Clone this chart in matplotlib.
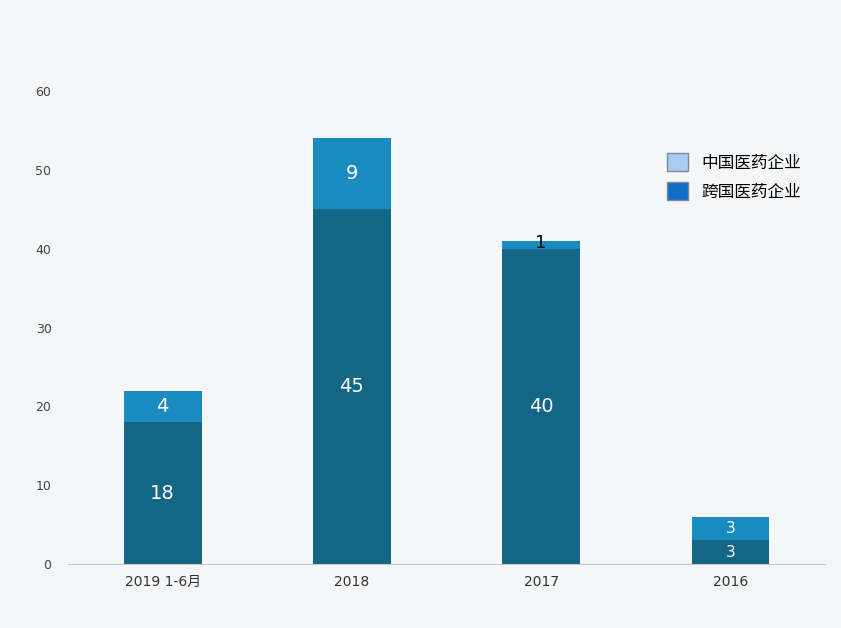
import matplotlib.pyplot as plt
from matplotlib.patches import Patch

years = ["2019 1-6月", "2018", "2017", "2016"]
multinational = [18, 45, 40, 3]
chinese = [4, 9, 1, 3]
legend_labels = ["中国医药企业", "跨国医药企业"]

plt.rcParams["font.family"] = ["DejaVu Sans", "Noto Sans CJK SC"]

fig = plt.figure(figsize=(8.41, 6.28), dpi=100, facecolor="#f5f6f7")
ax = fig.add_axes([0.081, 0.102, 0.9, 0.753], facecolor="#f5f6f7")

x = range(len(years))
w = 0.41
ax.bar(x, multinational, w, color="#136686")
ax.bar(x, chinese, w, bottom=multinational, color="#1a8bbf")

for i in x:
    fs = 11 if multinational[i] < 5 else 14
    ax.text(i, multinational[i] / 2, str(multinational[i]), color="white",
            ha="center", va="center", fontsize=fs)
    if chinese[i] < 2:
        ax.text(i, multinational[i] + chinese[i] / 2 + 0.2, str(chinese[i]),
                color="black", ha="center", va="center", fontsize=13)
    else:
        fs = 11 if chinese[i] < 4 else 14
        ax.text(i, multinational[i] + chinese[i] / 2, str(chinese[i]),
                color="white", ha="center", va="center", fontsize=fs)

ax.set_xlim(-0.5, 3.5)
ax.set_ylim(0, 60)
ax.set_yticks(range(0, 61, 10))
ax.set_xticks(list(x))
ax.set_xticklabels(years, fontsize=10, color="#333333")
ax.tick_params(axis="y", labelsize=9, colors="#444444", length=0, pad=12)
ax.tick_params(axis="x", length=0, pad=8)
for s in ["top", "right", "left"]:
    ax.spines[s].set_visible(False)
ax.spines["bottom"].set_color("#c8c8c8")

handles = [Patch(facecolor="#a8cdf0", edgecolor="#7a8a99"),
           Patch(facecolor="#0f6fc6", edgecolor="#7a8a99")]
fig.legend(handles, legend_labels, loc="upper left", bbox_to_anchor=(0.775, 0.78),
           frameon=False, fontsize=12, prop={"family": "Noto Sans CJK SC", "size": 12},
           handlelength=1.3, handleheight=1.3, labelspacing=0.6)

fig.savefig("out.png", dpi=100, facecolor=fig.get_facecolor())
